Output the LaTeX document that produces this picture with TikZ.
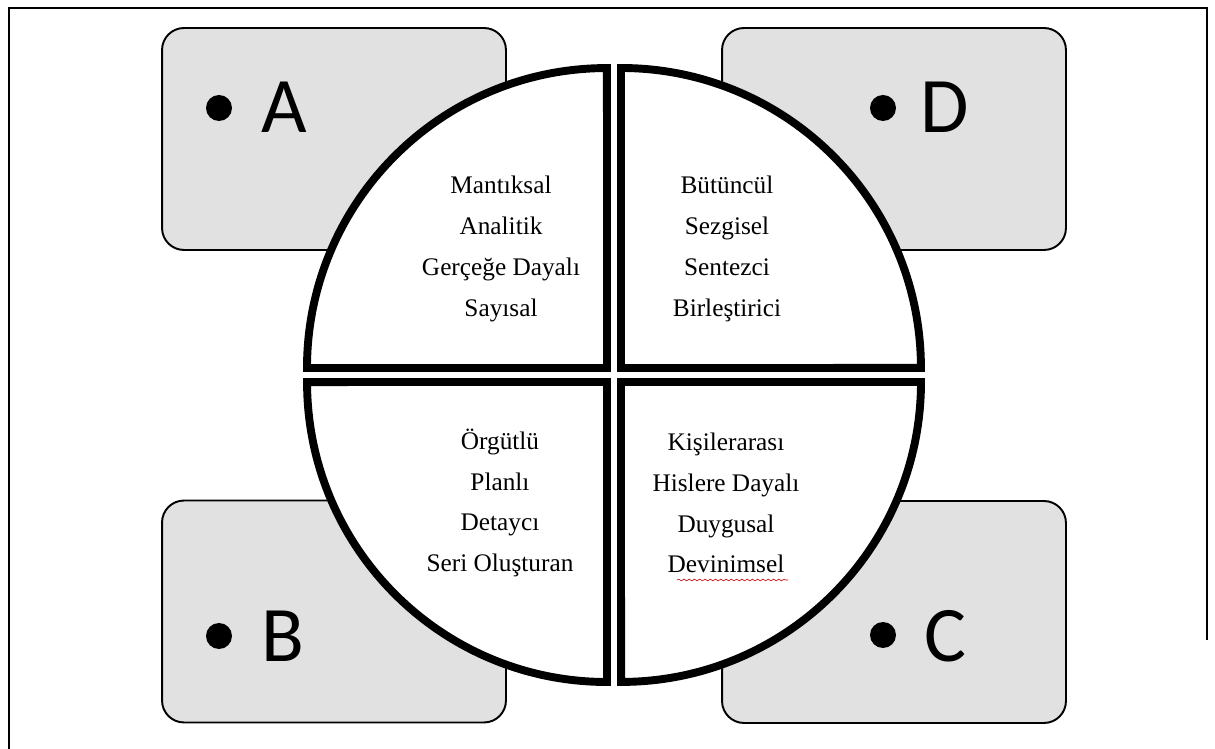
\documentclass[tikz,border=0pt]{standalone}
\usepackage{fontspec}
\setmainfont{Liberation Serif}
\newfontfamily\calibfont{Carlito}
\usetikzlibrary{decorations.pathmorphing}
\definecolor{boxgray}{HTML}{E1E1E1}
\begin{document}
\begin{tikzpicture}[x=0.02cm,y=-0.02cm,
  box/.style={draw=black, line width=1.1pt, fill=boxgray, rounded corners=12.5pt,
    minimum width=6.88cm, minimum height=4.44cm, inner sep=0pt},
  quad/.style={draw=black, fill=white, line width=4.5pt, line join=miter},
  dot/.style={circle, fill=black, minimum size=0.52cm, inner sep=0pt},
  letter/.style={font=\calibfont\fontsize{44.8}{50}\selectfont, inner sep=0pt},
  words/.style={align=center, inner sep=0pt, font=\fontsize{14.4}{23.2}\selectfont}]
\useasboundingbox (0,0) rectangle (1215,749);
\draw[line width=1.1pt] (9,749) -- (9,8) -- (1207,8) -- (1207,640);
% boxes
\node[box] (boxA) at (334,139) {};
\node[box] (boxD) at (894,139) {};
\node[box] (boxB) at (334,611.5) {};
\node[box] (boxC) at (894,612) {};
% quadrants
\draw[quad] (607,368) -- (307,368) arc[start angle=180,end angle=90,radius=6cm] -- cycle;
\draw[quad] (621,368) -- (621,68) arc[start angle=90,end angle=0,radius=6cm] -- cycle;
\draw[quad] (607,382) -- (607,682) arc[start angle=270,end angle=180,radius=6cm] -- cycle;
\draw[quad] (621,382) -- (921,382) arc[start angle=0,end angle=-90,radius=6cm] -- cycle;
% letters
\node[dot] (dA) at (219,108) {};
\node[letter] (lA) at (284,107.5) {A};
\node[dot] (dD) at (883,108) {};
\node[letter] (lD) at (945,107.5) {D};
\node[dot] (dB) at (219,636) {};
\node[letter] (lB) at (283,636) {B};
\node[dot] (dC) at (883,635) {};
\node[letter] (lC) at (945,636) {C};
% texts
\node[words] (tA) at (501,249) {Mantıksal\\Analitik\\Gerçeğe Dayalı\\Sayısal};
\node[words] (tD) at (727,249) {Bütüncül\\Sezgisel\\Sentezci\\Birleştirici};
\node[words] (tB) at (500,503) {Örgütlü\\Planlı\\Detaycı\\Seri Oluşturan};
\node[words] (tC) at (726,503) {Kişilerarası\\Hislere Dayalı\\Duygusal\\Devinimsel};
\draw[red!80!black, line width=0.35pt, decorate, decoration={snake, amplitude=0.5pt, segment length=3pt}] (677,580) -- (788,580);
\end{tikzpicture}
\end{document}
